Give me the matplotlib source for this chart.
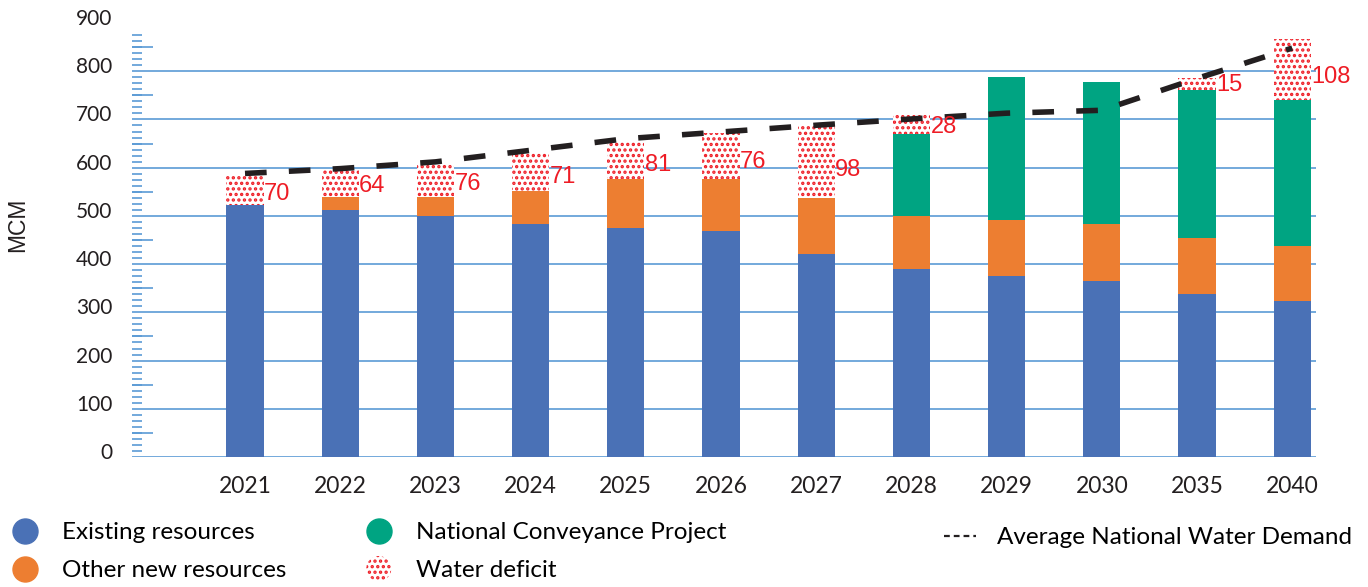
import numpy as np
import matplotlib.pyplot as plt
import matplotlib.patches as mpatches
from matplotlib.lines import Line2D
from matplotlib.legend_handler import HandlerPatch
from matplotlib.transforms import ScaledTranslation

years = ['2021', '2022', '2023', '2024', '2025', '2026', '2027', '2028', '2029', '2030', '2035', '2040']
existing = [522, 513, 499, 484, 475, 468, 420, 389, 376, 364, 337, 323]
other_new = [0, 27, 41, 67, 101, 108, 118, 110, 115, 120, 118, 115]
conveyance = [0, 0, 0, 0, 0, 0, 0, 170, 296, 293, 307, 303]
deficit = [62, 56, 68, 79, 77, 95, 150, 41, 0, 0, 23, 125]
deficit_labels = ['70', '64', '76', '71', '81', '76', '98', '28', '', '', '15', '108']
demand = [588, 598, 612, 636, 660, 674, 688, 701, 713, 719, 785, 848]

c_blue = '#4a71b6'
c_orange = '#ed7e31'
c_green = '#00a482'
c_red = '#ee1c25'
c_grid = '#5b9bd5'

plt.rcParams['hatch.linewidth'] = 1.6

fig = plt.figure(figsize=(13.68, 5.87), dpi=100)
ax = fig.add_axes([132 / 1368, 130 / 587, 1184 / 1368, 434 / 587])

x = np.arange(len(years))
w = 0.39
existing = np.array(existing)
other_new = np.array(other_new)
conveyance = np.array(conveyance)
deficit = np.array(deficit)
supply = existing + other_new + conveyance

ax.bar(x, existing, w, color=c_blue, zorder=3)
ax.bar(x, other_new, w, bottom=existing, color=c_orange, zorder=3)
ax.bar(x, conveyance, w, bottom=existing + other_new, color=c_green, zorder=3)
ax.bar(x, deficit, w, bottom=supply, facecolor='white', edgecolor=c_red,
       linewidth=0, hatch='...', zorder=3)

ax.plot(x, demand, color='#231f20', lw=4.0, ls=(0, (3.9, 4.0)), zorder=4)

for i in range(len(years)):
    if deficit_labels[i]:
        ax.text(i + w / 2 + 0.005, supply[i] + 0.38 * deficit[i], deficit_labels[i],
                color=c_red, fontsize=17, family='Liberation Sans',
                ha='left', va='center', zorder=5)

ax.set_xlim(-1.187, 11.25)
ax.set_ylim(0, 900)
for s in ax.spines.values():
    s.set_visible(False)

ax.set_xticks(x)
ax.set_xticklabels(years, fontsize=16.5, family='Lato', color='#231f20')
ax.tick_params(axis='x', length=0, pad=14)

ax.set_yticks(np.arange(0, 901, 100))
ax.set_yticklabels([str(v) for v in range(0, 901, 100)], fontsize=15, family='Lato', color='#231f20')
ax.set_yticks(np.arange(0, 880, 12.5), minor=True)
ax.tick_params(axis='y', which='major', length=0, pad=14)
ax.tick_params(axis='y', which='minor', direction='in', length=7, width=1.2, color=c_grid)
ax.yaxis.grid(True, color=c_grid, lw=1.2, zorder=0)
ax.get_ygridlines()[-1].set_visible(False)
ax.set_axisbelow(True)
for lab in ax.get_yticklabels():
    lab.set_transform(lab.get_transform() + ScaledTranslation(0, 6 / 100, fig.dpi_scale_trans))

sec = ax.secondary_yaxis('left')
sec.set_yticks(np.arange(50, 900, 100))
sec.tick_params(direction='in', length=15, width=1.2, color=c_grid, labelleft=False)
sec.spines['left'].set_visible(False)

fig.text(18 / 1368, 1 - 225 / 587, 'MCM', rotation=90, fontsize=16.5,
         family='Liberation Sans', ha='center', va='center', color='#231f20')


def make_circle(legend, orig_handle, xdescent, ydescent, width, height, fontsize):
    return mpatches.Circle((width / 2 - xdescent, height / 2 - ydescent), 9.0)


h_exist = Line2D([], [], marker='o', ls='', markersize=18, color=c_blue)
h_other = Line2D([], [], marker='o', ls='', markersize=18, color=c_orange)
h_conv = Line2D([], [], marker='o', ls='', markersize=18, color=c_green)
h_def = mpatches.Patch(facecolor='white', edgecolor=c_red, linewidth=0, hatch='...')
h_dem = Line2D([], [], color='#231f20', lw=1.6, ls=(0, (2.6, 1.8)))

leg_kw = dict(frameon=False, prop={'family': 'Lato', 'size': 17.5}, borderpad=0,
              borderaxespad=0, handlelength=1.3, handletextpad=0.9, labelspacing=0.7,
              loc='upper left', handler_map={mpatches.Patch: HandlerPatch(patch_func=make_circle)})
fig.legend([h_exist, h_other], ['Existing resources', 'Other new resources'],
           bbox_to_anchor=(9 / 1368, 1 - 522 / 587), **leg_kw)
fig.legend([h_conv, h_def], ['National Conveyance Project', 'Water deficit'],
           bbox_to_anchor=(363 / 1368, 1 - 522 / 587), **leg_kw)
fig.legend([h_dem], ['Average National Water Demand'],
           bbox_to_anchor=(944 / 1368, 1 - 527 / 587), **leg_kw)

fig.savefig('out.png', dpi=100)
